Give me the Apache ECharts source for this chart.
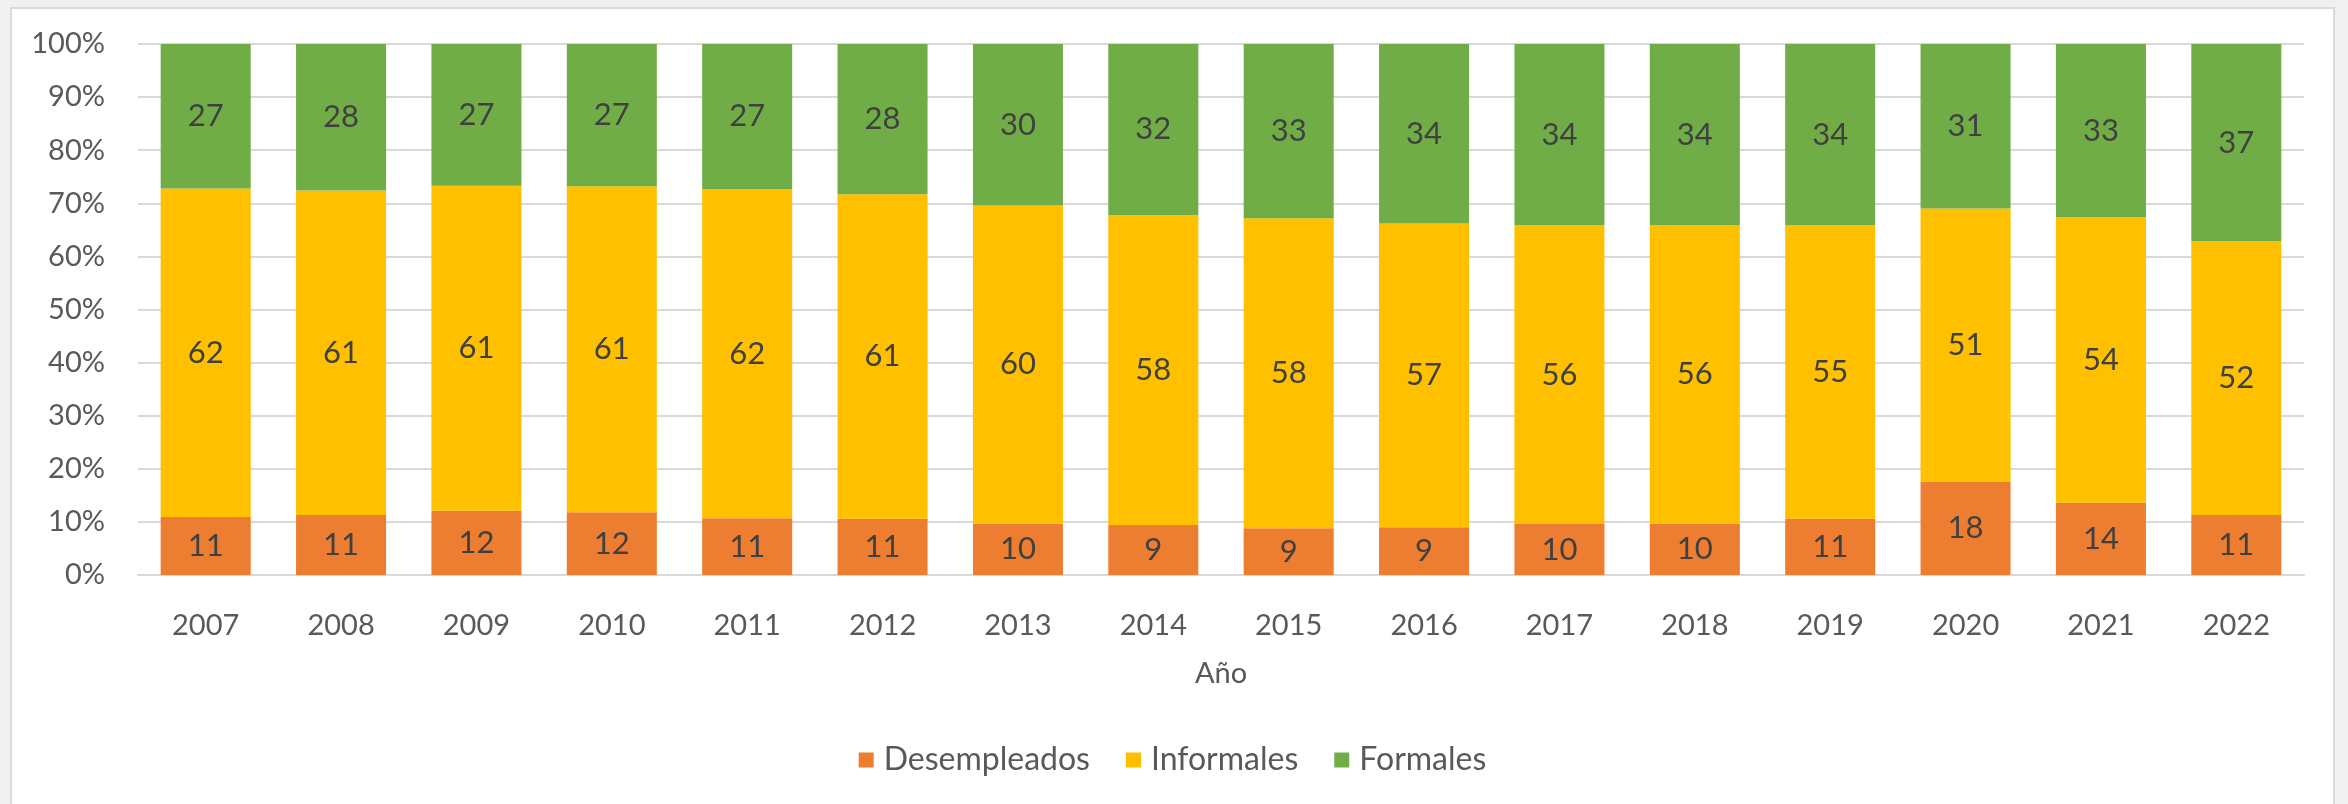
<!DOCTYPE html>
<html>
<head>
<meta charset="utf-8">
<script src="https://cdn.jsdelivr.net/npm/echarts@6/dist/echarts.min.js"></script>
<style>
  html, body { margin: 0; padding: 0; background: #f0f0f0; overflow: hidden; }
  #chart {
    position: absolute; left: 10px; top: 7px;
    width: 2325px; height: 810px;
    background: #fff; border: 2px solid #dadada; box-sizing: border-box;
  }
</style>
</head>
<body>
<div id="chart"></div>
<script>
// años
var years = ['2007', '2008', '2009', '2010', '2011', '2012', '2013', '2014',
             '2015', '2016', '2017', '2018', '2019', '2020', '2021', '2022'];

// porcentajes por grupo
var desempleados = [10.9, 11.3, 12.1, 11.8, 10.7, 10.6, 9.7, 9.4, 8.8, 9.0, 9.6, 9.7, 10.6, 17.6, 13.6, 11.3];
var informales   = [61.9, 61.1, 61.2, 61.4, 62.0, 61.1, 59.9, 58.4, 58.4, 57.2, 56.3, 56.2, 55.3, 51.4, 53.8, 51.6];
var formales     = [27.2, 27.6, 26.7, 26.8, 27.3, 28.3, 30.4, 32.2, 32.8, 33.8, 34.1, 34.1, 34.1, 31.0, 32.6, 37.1];

var yTicks = [0, 10, 20, 30, 40, 50, 60, 70, 80, 90, 100];

var font = 'Lato, "Open Sans", sans-serif';

function serie(name, data, color) {
    return {
        name: name,
        type: 'bar',
        stack: 'total',
        barCategoryGap: '33.5%',
        data: data,
        itemStyle: { color: color },
        label: {
            show: true,
            position: 'inside',
            color: '#404040',
            fontFamily: font,
            fontSize: 31,
            formatter: function (p) { return Math.round(p.value); }
        }
    };
}

var myChart = echarts.init(document.getElementById('chart'));
myChart.setOption({
    animation: false,
    grid: { left: 126, top: 35, width: 2166, height: 531 },
    legend: {
        bottom: 34,
        left: 'center',
        icon: 'rect',
        itemWidth: 15,
        itemHeight: 15,
        itemGap: 36,
        textStyle: { color: '#595959', fontFamily: font, fontSize: 32, padding: [0, 0, 0, 5] },
        data: ['Desempleados', 'Informales', 'Formales']
    },
    xAxis: {
        type: 'category',
        data: years,
        name: 'Año',
        nameLocation: 'middle',
        nameGap: 84,
        nameTextStyle: { color: '#595959', fontFamily: font, fontSize: 29 },
        axisTick: { show: false },
        axisLine: { lineStyle: { color: '#d9d9d9', width: 2 } },
        axisLabel: { color: '#595959', fontFamily: font, fontSize: 29, margin: 36 }
    },
    yAxis: {
        type: 'value',
        min: yTicks[0],
        max: yTicks[yTicks.length - 1],
        interval: 10,
        axisLine: { show: false },
        axisTick: { show: false },
        splitLine: { lineStyle: { color: '#d9d9d9', width: 2 } },
        axisLabel: { color: '#595959', fontFamily: font, fontSize: 29, margin: 33, formatter: '{value}%' }
    },
    series: [
        serie('Desempleados', desempleados, '#ED7D31'),
        serie('Informales', informales, '#FFC000'),
        serie('Formales', formales, '#70AD47')
    ]
});
</script>
</body>
</html>
